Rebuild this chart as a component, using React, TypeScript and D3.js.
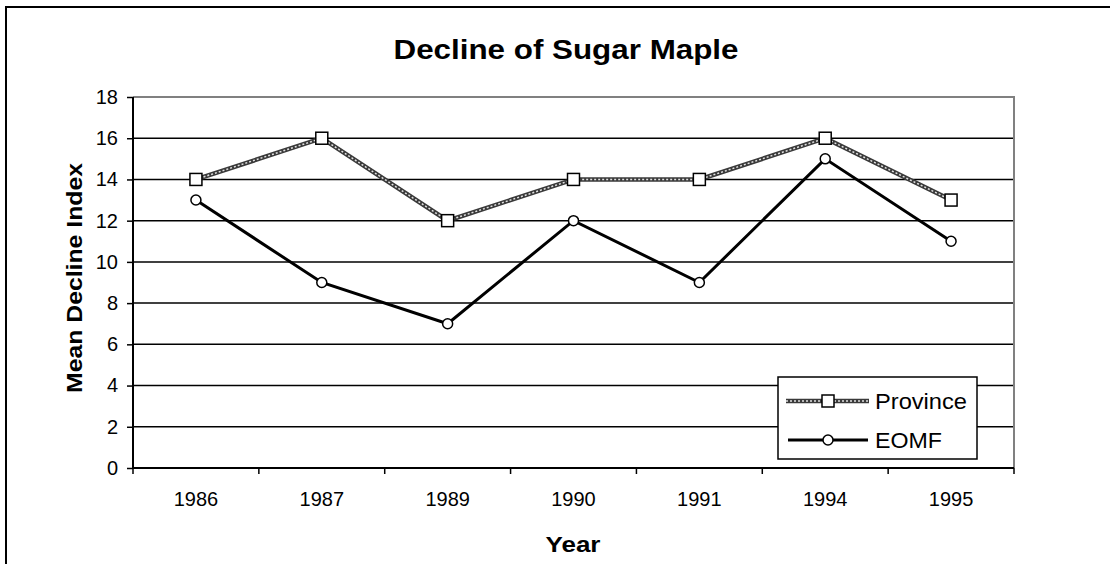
import React, { useRef, useEffect } from "react";
import { select, scaleLinear, scaleBand, line, axisLeft, axisBottom, range } from "d3";

const years = ["1986", "1987", "1989", "1990", "1991", "1994", "1995"];
const province = [14, 16, 12, 14, 14, 16, 13];
const eomf = [13, 9, 7, 12, 9, 15, 11];
const yTicks = [0, 2, 4, 6, 8, 10, 12, 14, 16, 18];

const W = 1110;
const H = 564;
const FONT = "Liberation Sans, Arial, sans-serif";

const App = () => {
  const svgRef = useRef<SVGSVGElement>(null);

  useEffect(() => {
    const svg = select(svgRef.current);
    svg.selectAll("*").remove();

    const left = 133, right = 1014, top = 97, bottom = 468;

    // x is banded (categories), y is linear 0..18
    const x = scaleBand().domain(years).range([left, right]);
    const y = scaleLinear().domain([0, 18]).range([bottom, top]);
    const cx = (d: string) => (x(d) as number) + x.bandwidth() / 2;

    // outer chart frame, cut off at right & bottom like the original
    svg.append("rect")
      .attr("x", 6).attr("y", 7)
      .attr("width", W).attr("height", H)
      .attr("fill", "white").attr("stroke", "black").attr("stroke-width", 2);

    // gridlines
    svg.append("g")
      .selectAll("line")
      .data(yTicks.filter((t) => t > 0 && t < 18))
      .join("line")
      .attr("x1", left).attr("x2", right)
      .attr("y1", (d) => y(d)).attr("y2", (d) => y(d))
      .attr("stroke", "black").attr("stroke-width", 1.5);

    // gray plot border top + right
    svg.append("path")
      .attr("d", `M${left},${y(18)}H${right}V${bottom}`)
      .attr("fill", "none").attr("stroke", "#808080").attr("stroke-width", 2);

    const yAxis = axisLeft(y).tickValues(yTicks).tickSize(6).tickPadding(9);
    const gy = svg.append("g").attr("transform", `translate(${left},0)`).call(yAxis);
    gy.select(".domain").attr("stroke-width", 2).attr("d", `M0,${top}V${bottom}`);
    gy.selectAll(".tick line").attr("stroke-width", 1.5);
    gy.selectAll("text").attr("font-family", FONT).attr("font-size", 20).attr("fill", "black");

    // x ticks sit on category boundaries
    const gx = svg.append("g").attr("transform", `translate(0,${bottom})`);
    gx.call(axisBottom(x).tickSize(0).tickPadding(24));
    gx.select(".domain").attr("stroke-width", 2).attr("d", `M${left},0H${right}`);
    gx.selectAll("text").attr("font-family", FONT).attr("font-size", 20).attr("fill", "black");
    gx.selectAll(".edge")
      .data(range(years.length + 1))
      .join("line")
      .attr("x1", (i) => left + i * x.step()).attr("x2", (i) => left + i * x.step())
      .attr("y1", 0).attr("y2", 6)
      .attr("stroke", "black").attr("stroke-width", 1.5);

    const provLine = line<number>().x((d, i) => cx(years[i])).y((d) => y(d));

    // textured gray line for Province
    const drawProvince = (g: any, d: string) => {
      g.append("path").attr("d", d).attr("fill", "none")
        .attr("stroke", "#3a3a3a").attr("stroke-width", 4.5);
      g.append("path").attr("d", d).attr("fill", "none")
        .attr("stroke", "#e0e0e0").attr("stroke-width", 1.5)
        .attr("stroke-dasharray", "2,2");
    };

    drawProvince(svg.append("g"), provLine(province) as string);

    svg.append("path")
      .attr("d", provLine(eomf) as string)
      .attr("fill", "none").attr("stroke", "black").attr("stroke-width", 3);

    svg.append("g").selectAll("rect")
      .data(province)
      .join("rect")
      .attr("x", (d, i) => cx(years[i]) - 6).attr("y", (d) => y(d) - 6)
      .attr("width", 12).attr("height", 12)
      .attr("fill", "white").attr("stroke", "black").attr("stroke-width", 1.5);

    svg.append("g").selectAll("circle")
      .data(eomf)
      .join("circle")
      .attr("cx", (d, i) => cx(years[i])).attr("cy", (d) => y(d))
      .attr("r", 5)
      .attr("fill", "white").attr("stroke", "black").attr("stroke-width", 1.5);

    // legend
    const lg = svg.append("g");
    lg.append("rect")
      .attr("x", 778).attr("y", 377).attr("width", 199).attr("height", 82)
      .attr("fill", "white").attr("stroke", "black").attr("stroke-width", 1.5);
    drawProvince(lg, "M786,401H869");
    lg.append("rect").attr("x", 822).attr("y", 395).attr("width", 12).attr("height", 12)
      .attr("fill", "white").attr("stroke", "black").attr("stroke-width", 1.5);
    lg.append("path").attr("d", "M788,440H868").attr("stroke", "black").attr("stroke-width", 3);
    lg.append("circle").attr("cx", 828).attr("cy", 440).attr("r", 5)
      .attr("fill", "white").attr("stroke", "black").attr("stroke-width", 1.5);
    lg.append("text").attr("x", 875).attr("y", 409).text("Province")
      .attr("font-family", FONT).attr("font-size", 22)
      .attr("textLength", 92).attr("lengthAdjust", "spacingAndGlyphs");
    lg.append("text").attr("x", 875).attr("y", 448).text("EOMF")
      .attr("font-family", FONT).attr("font-size", 22)
      .attr("textLength", 67).attr("lengthAdjust", "spacingAndGlyphs");

    // titles
    svg.append("text").attr("x", 566).attr("y", 59).attr("text-anchor", "middle")
      .attr("font-family", FONT).attr("font-size", 28).attr("font-weight", "bold")
      .attr("textLength", 345).attr("lengthAdjust", "spacingAndGlyphs")
      .text("Decline of Sugar Maple");
    svg.append("text").attr("x", 573).attr("y", 552).attr("text-anchor", "middle")
      .attr("font-family", FONT).attr("font-size", 22).attr("font-weight", "bold")
      .attr("textLength", 55).attr("lengthAdjust", "spacingAndGlyphs")
      .text("Year");
    svg.append("text")
      .attr("transform", `translate(82,278) rotate(-90)`)
      .attr("text-anchor", "middle")
      .attr("font-family", FONT).attr("font-size", 22).attr("font-weight", "bold")
      .attr("textLength", 230).attr("lengthAdjust", "spacingAndGlyphs")
      .text("Mean Decline Index");
  }, []);

  return (
    <svg
      ref={svgRef}
      width={W}
      height={H}
      style={{ position: "absolute", left: 0, top: 0, background: "white" }}
    />
  );
};

export default App;
